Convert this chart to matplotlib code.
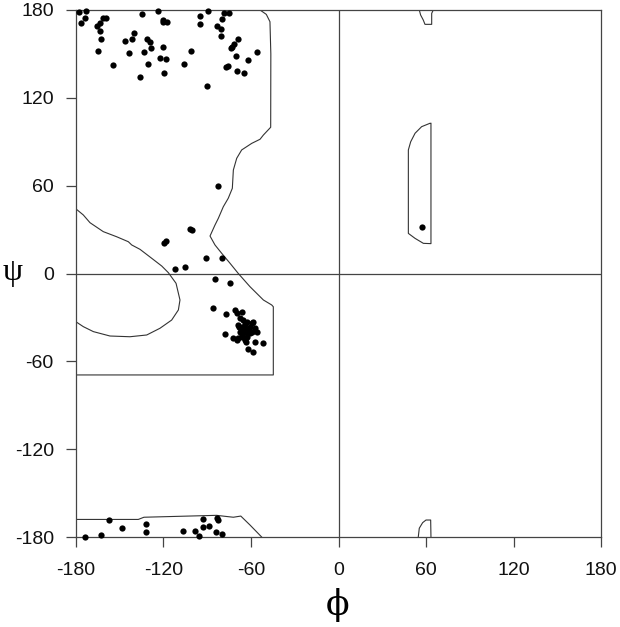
import matplotlib
matplotlib.use("Agg")
import matplotlib.pyplot as plt
import numpy as np

# ---- data (phi, psi in degrees) ----
phi_pts = [
    # beta region (top-left)
    -177.7, -173.1, -174.0, -176.6, -161.3, -159.4, -165.8, -163.5, -163.5, -163.1,
    -165.1, -154.9, -135.0, -123.6, -120.1, -120.6, -117.8, -140.0, -141.8, -146.6,
    -131.1, -129.3, -128.4, -133.4, -143.5, -120.3, -122.4, -118.1, -130.6, -136.3,
    -119.9, -105.7, -101.0, -95.0, -95.0, -89.3, -90.4, -78.5, -75.3, -79.7,
    -83.6, -80.8, -80.4, -68.9, -71.8, -73.0, -73.5, -70.3, -61.8, -55.7,
    -77.4, -75.6, -69.9, -64.8,
    # bridge region
    -82.4, -101.8, -100.7, -119.7, -118.5, -90.9, -80.1, -112.1, -105.5, -84.5,
    -74.4,
    # alpha region
    -85.8, -77.3, -70.9, -69.8, -66.4, -67.5, -65.3, -62.9, -59.5, -58.4,
    -68.7, -66.4, -64.1, -60.7, -57.3, -67.5, -65.3, -62.9, -59.5, -77.8,
    -72.1, -69.8, -66.4, -64.1, -63.4, -57.3, -51.6, -61.8, -58.4, -68.0,
    -64.1, -61.8, -66.4, -63.0, -56.1, -60.7, -68.7, -65.3,
    # bottom band
    -174.0, -163.1, -157.4, -148.2, -131.8, -131.8, -106.4, -98.4, -95.7, -93.1,
    -88.8, -92.9, -83.3, -82.8, -84.2, -79.9,
    # left-handed helix
    57.5,
]
psi_pts = [
    178.8, 179.3, 174.7, 171.1, 174.7, 174.3, 169.1, 170.9, 165.7, 160.0,
    152.0, 142.4, 177.3, 179.5, 173.2, 171.6, 171.6, 164.1, 160.2, 158.6,
    160.2, 157.9, 154.2, 151.3, 150.8, 155.0, 147.0, 146.5, 143.3, 134.4,
    136.8, 142.9, 152.0, 175.9, 170.4, 179.5, 127.9, 177.7, 177.7, 173.9,
    169.3, 167.2, 162.5, 160.2, 156.8, 154.7, 154.2, 148.8, 146.0, 151.3,
    141.1, 142.0, 138.5, 137.0,
    60.0, 30.2, 29.7, 21.1, 22.2, 10.4, 10.4, 3.1, 4.6, -3.9,
    -6.7,
    -23.8, -27.7, -24.9, -26.8, -26.1, -30.6, -31.8, -32.9, -34.0, -32.9,
    -35.2, -36.3, -37.4, -36.3, -37.4, -39.7, -40.9, -39.7, -39.7, -41.6,
    -43.9, -45.4, -43.2, -45.4, -46.6, -46.6, -47.3, -51.8, -53.4, -36.3,
    -34.5, -38.0, -42.0, -43.2, -40.2, -40.9, -44.3, -38.6,
    -179.8, -178.6, -168.4, -173.8, -171.1, -176.6, -175.9, -175.9, -179.3, -173.0,
    -172.5, -167.9, -167.2, -168.4, -176.8, -177.7,
    32.0,
]

# allowed-region contour lines (phi, psi vertices)
contour_main_phi = [-53.8, -49.5, -47.0, -46.4, -46.5, -51.5, -53.8, -59.5, -66.4, -69.8,
                    -72.1, -72.8, -75.6, -79.0, -82.4, -84.7, -88.1, -84.7, -80.1, -74.4,
                    -68.7, -60.7, -51.5, -45.8, -44.7, -44.7, -180.0]
contour_main_psi = [180.0, 177.0, 172.0, 150.0, 99.9, 94.6, 91.7, 88.9, 84.4, 78.7,
                    70.7, 58.2, 51.4, 45.6, 37.7, 33.1, 25.6, 19.5, 13.8, 7.0,
                    0.0, -9.0, -18.1, -21.5, -22.7, -69.3, -69.3]
contour_lobe_phi = [-180.0, -175.0, -170.4, -161.3, -152.1, -144.1, -141.8, -136.1, -128.1, -121.2,
                    -116.7, -111.4, -108.7, -109.8, -114.4, -122.4, -131.5, -143.0, -156.7, -168.1,
                    -175.0, -180.0]
contour_lobe_psi = [44.1, 40.0, 34.7, 28.6, 25.1, 21.7, 19.5, 16.5, 10.4, 5.1,
                    0.6, -6.7, -18.1, -24.9, -31.8, -37.4, -42.0, -43.2, -42.7, -39.7,
                    -36.3, -33.0]
contour_bottom_phi = [-180.0, -137.3, -133.4, -83.6, -76.7, -72.1, -67.0, -60.7, -52.7]
contour_bottom_psi = [-168.0, -168.0, -166.5, -165.2, -166.0, -166.5, -165.7, -171.8, -180.0]
contour_lh_phi = [62.7, 57.0, 52.5, 49.5, 47.9, 47.9, 52.5, 58.2, 63.4, 63.4]
contour_lh_psi = [102.6, 100.3, 95.8, 90.0, 84.4, 27.4, 24.0, 20.6, 20.4, 102.6]
contour_top_phi = [55.4, 56.3, 58.1, 59.3, 63.9, 63.9, 65.0]
contour_top_psi = [180.0, 176.6, 173.2, 170.2, 170.2, 177.7, 180.0]
contour_bot_phi = [54.7, 55.4, 57.7, 60.0, 63.2, 63.4]
contour_bot_psi = [-180.0, -174.0, -170.2, -168.4, -168.4, -180.0]

ticks = [-180, -120, -60, 0, 60, 120, 180]

fig = plt.figure(figsize=(6.2, 6.27), dpi=100)
ax = fig.add_axes([76/620, 90/627, 525/620, 527/627])
ax.set_xlim(-180, 180)
ax.set_ylim(-180, 180)

lc = "#333333"
lw = 0.8
for xs, ys in [(contour_main_phi, contour_main_psi), (contour_lobe_phi, contour_lobe_psi),
               (contour_bottom_phi, contour_bottom_psi), (contour_lh_phi, contour_lh_psi),
               (contour_top_phi, contour_top_psi), (contour_bot_phi, contour_bot_psi)]:
    ax.plot(xs, ys, color=lc, lw=lw, zorder=2)

ax.axhline(0, color="#444444", lw=0.9, zorder=1)
ax.axvline(0, color="#444444", lw=0.9, zorder=1)

ax.plot(phi_pts, psi_pts, "o", color="black", markersize=4.5, markeredgewidth=0,
        zorder=3, clip_on=False)

for s in ax.spines.values():
    s.set_color("#444444")
    s.set_linewidth(0.9)

ax.set_xticks(ticks)
ax.set_yticks(ticks)
ax.set_xticklabels([str(t) for t in ticks])
ax.set_yticklabels([str(t) for t in ticks])
ax.tick_params(direction="out", length=7.5, width=0.9, color="#444444",
               labelsize=14, pad=8.5)
ax.tick_params(axis="x", pad=10.5)
for lab in ax.get_xticklabels() + ax.get_yticklabels():
    lab.set_family(["Liberation Sans", "DejaVu Sans"])
    lab.set_color("#111111")

fig.text(338/620, 1 - 605/627, "\u03d5", ha="center", va="center", fontsize=25,
         family=["DejaVu Serif", "Liberation Serif"])
fig.text(13/620, 1 - 273/627, "\u03c8", ha="center", va="center", fontsize=23,
         family=["Liberation Serif", "DejaVu Serif"])

fig.savefig("out.png", dpi=100)
